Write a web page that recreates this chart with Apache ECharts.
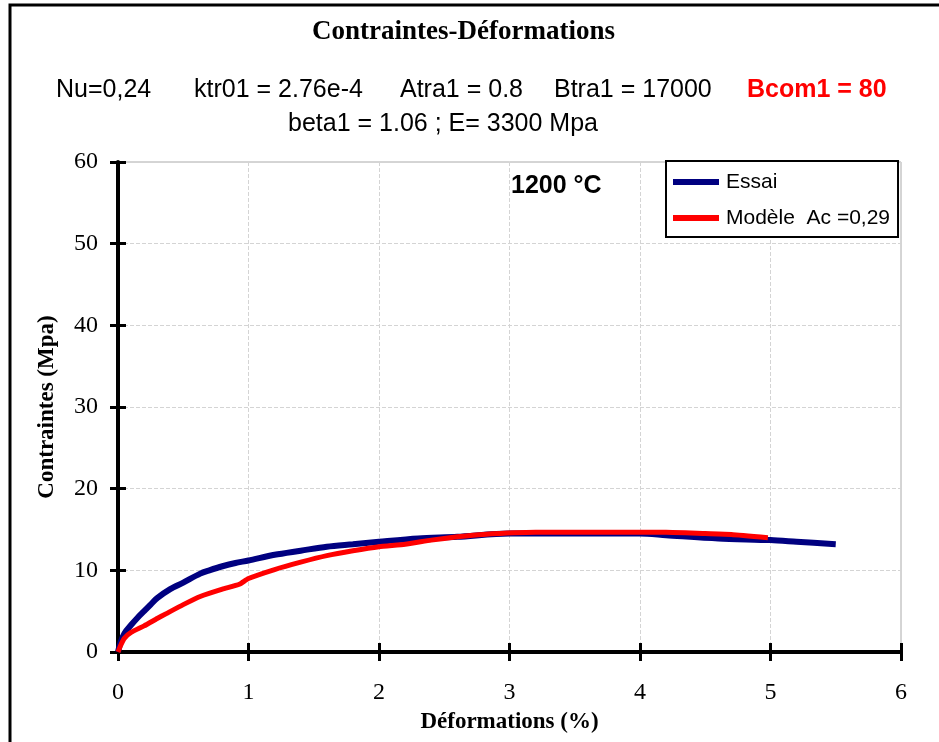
<!DOCTYPE html>
<html>

<head>
    <meta charset="UTF-8">
    <title>Contraintes-Déformations</title>
    <script src="https://cdn.jsdelivr.net/npm/echarts@6.0.0/dist/echarts.min.js"></script>
    <style>
        html, body { margin: 0; padding: 0; background: #fff; }
    </style>
</head>

<body>
    <div id="main" style="width: 939px; height: 742px;"></div>
    <script>
        // Essai (mesures)
        const essaiX = [0, 0.02, 0.05, 0.1, 0.15, 0.2, 0.25, 0.3, 0.4, 0.5, 0.63, 0.7, 0.8, 0.9, 1.0, 1.2, 1.4, 1.6, 1.8, 2.0, 2.3, 2.6, 3.0, 3.5, 4.0, 4.2, 4.6, 5.0, 5.2, 5.5];
        const essaiY = [0, 1.2, 2.3, 3.3, 4.2, 5.0, 5.8, 6.6, 7.7, 8.5, 9.6, 10.0, 10.5, 10.9, 11.2, 11.9, 12.4, 12.9, 13.2, 13.5, 13.9, 14.1, 14.5, 14.5, 14.5, 14.3, 13.9, 13.7, 13.5, 13.2];

        // Modèle
        const modeleX = [0, 0.02, 0.05, 0.1, 0.2, 0.3, 0.37, 0.5, 0.63, 0.8, 0.93, 1.0, 1.2, 1.4, 1.6, 1.8, 2.0, 2.2, 2.4, 2.6, 2.8, 3.2, 4.2, 4.5, 4.7, 4.98];
        const modeleY = [0, 0.8, 1.7, 2.4, 3.2, 4.1, 4.7, 5.8, 6.8, 7.7, 8.3, 9.0, 10.1, 11.0, 11.8, 12.4, 12.9, 13.2, 13.7, 14.1, 14.4, 14.65, 14.65, 14.5, 14.4, 14.0];

        const seriesNames = ['Essai', 'Modèle  Ac =0,29'];

        const serif = 'Liberation Serif';
        const sans = 'Liberation Sans';

        const zip = (xs, ys) => xs.map((x, i) => [x, ys[i]]);

        const paramStyle = { fill: '#000', font: '25px ' + sans, verticalAlign: 'middle' };

        const option = {
            animation: false,
            backgroundColor: '#fff',
            title: {
                text: 'Contraintes-Déformations',
                left: 312,
                top: 19,
                padding: 0,
                textStyle: { fontFamily: serif, fontWeight: 'bold', fontSize: 27, color: '#000' }
            },
            graphic: [
                { type: 'rect', shape: { x: 10, y: 5, width: 960, height: 800 }, style: { fill: 'none', stroke: '#000', lineWidth: 3 } },
                { type: 'text', x: 56, y: 90, style: Object.assign({ text: 'Nu=0,24' }, paramStyle) },
                { type: 'text', x: 194, y: 90, style: Object.assign({ text: 'ktr01 = 2.76e-4' }, paramStyle) },
                { type: 'text', x: 400, y: 90, style: Object.assign({ text: 'Atra1 = 0.8' }, paramStyle) },
                { type: 'text', x: 554, y: 90, style: Object.assign({ text: 'Btra1 = 17000' }, paramStyle) },
                { type: 'text', x: 747, y: 90, style: { text: 'Bcom1 = 80', fill: '#ff0000', font: 'bold 25px ' + sans, verticalAlign: 'middle' } },
                { type: 'text', x: 443, y: 124, style: Object.assign({ text: 'beta1 = 1.06 ; E= 3300 Mpa', align: 'center' }, paramStyle) },
                { type: 'text', x: 511, y: 186, style: { text: '1200 °C', fill: '#000', font: 'bold 25px ' + sans, verticalAlign: 'middle' } }
            ],
            legend: {
                orient: 'vertical',
                left: 666,
                top: 161,
                padding: [10, 8, 8, 7],
                itemWidth: 46,
                itemHeight: 6,
                itemGap: 14,
                borderColor: '#000',
                borderWidth: 2,
                backgroundColor: '#fff',
                icon: 'rect',
                textStyle: { fontFamily: sans, fontSize: 21, color: '#000', lineHeight: 22, padding: [0, 0, 0, 2] },
                data: seriesNames
            },
            grid: {
                left: 118,
                right: 38,
                top: 162,
                bottom: 90,
                show: true,
                borderColor: '#aaa',
                borderWidth: 1
            },
            xAxis: [
                {
                    type: 'value',
                    min: 0,
                    max: 6,
                    interval: 1,
                    name: 'Déformations (%)',
                    nameLocation: 'middle',
                    nameGap: 59,
                    nameTextStyle: { fontFamily: serif, fontWeight: 'bold', fontSize: 23, color: '#000' },
                    axisLine: { lineStyle: { color: '#000', width: 4 } },
                    axisTick: { length: 9, lineStyle: { color: '#000', width: 3 } },
                    axisLabel: { fontFamily: serif, fontSize: 24, color: '#000', margin: 29 },
                    splitLine: { lineStyle: { color: '#d4d4d4', type: 'dashed', width: 1 } }
                },
                {
                    type: 'value',
                    min: 0,
                    max: 6,
                    interval: 1,
                    position: 'bottom',
                    axisLine: { show: false },
                    axisTick: { show: true, inside: true, length: 9, lineStyle: { color: '#000', width: 3 } },
                    axisLabel: { show: false },
                    splitLine: { show: false }
                }
            ],
            yAxis: [
                {
                    type: 'value',
                    min: 0,
                    max: 60,
                    interval: 10,
                    name: 'Contraintes (Mpa)',
                    nameLocation: 'middle',
                    nameGap: 59,
                    nameTextStyle: { fontFamily: serif, fontWeight: 'bold', fontSize: 23, color: '#000' },
                    axisLine: { show: true, lineStyle: { color: '#000', width: 4 } },
                    axisTick: { show: true, length: 8, lineStyle: { color: '#000', width: 3 } },
                    axisLabel: { fontFamily: serif, fontSize: 24, color: '#000', margin: 20 },
                    splitLine: { lineStyle: { color: '#d4d4d4', type: 'dashed', width: 1 } }
                },
                {
                    type: 'value',
                    min: 0,
                    max: 60,
                    interval: 10,
                    position: 'left',
                    axisLine: { show: false },
                    axisTick: { show: true, inside: true, length: 8, lineStyle: { color: '#000', width: 3 } },
                    axisLabel: { show: false },
                    splitLine: { show: false }
                }
            ],
            series: [
                {
                    name: seriesNames[0],
                    type: 'line',
                    data: zip(essaiX, essaiY),
                    showSymbol: false,
                    smooth: 0.3,
                    color: '#000080',
                    lineStyle: { color: '#000080', width: 6 },
                    z: 3
                },
                {
                    name: seriesNames[1],
                    type: 'line',
                    data: zip(modeleX, modeleY),
                    showSymbol: false,
                    smooth: 0.15,
                    color: '#ff0000',
                    lineStyle: { color: '#ff0000', width: 5 },
                    z: 4
                }
            ]
        };

        const myChart = echarts.init(document.getElementById('main'));
        myChart.setOption(option);
    </script>
</body>

</html>
